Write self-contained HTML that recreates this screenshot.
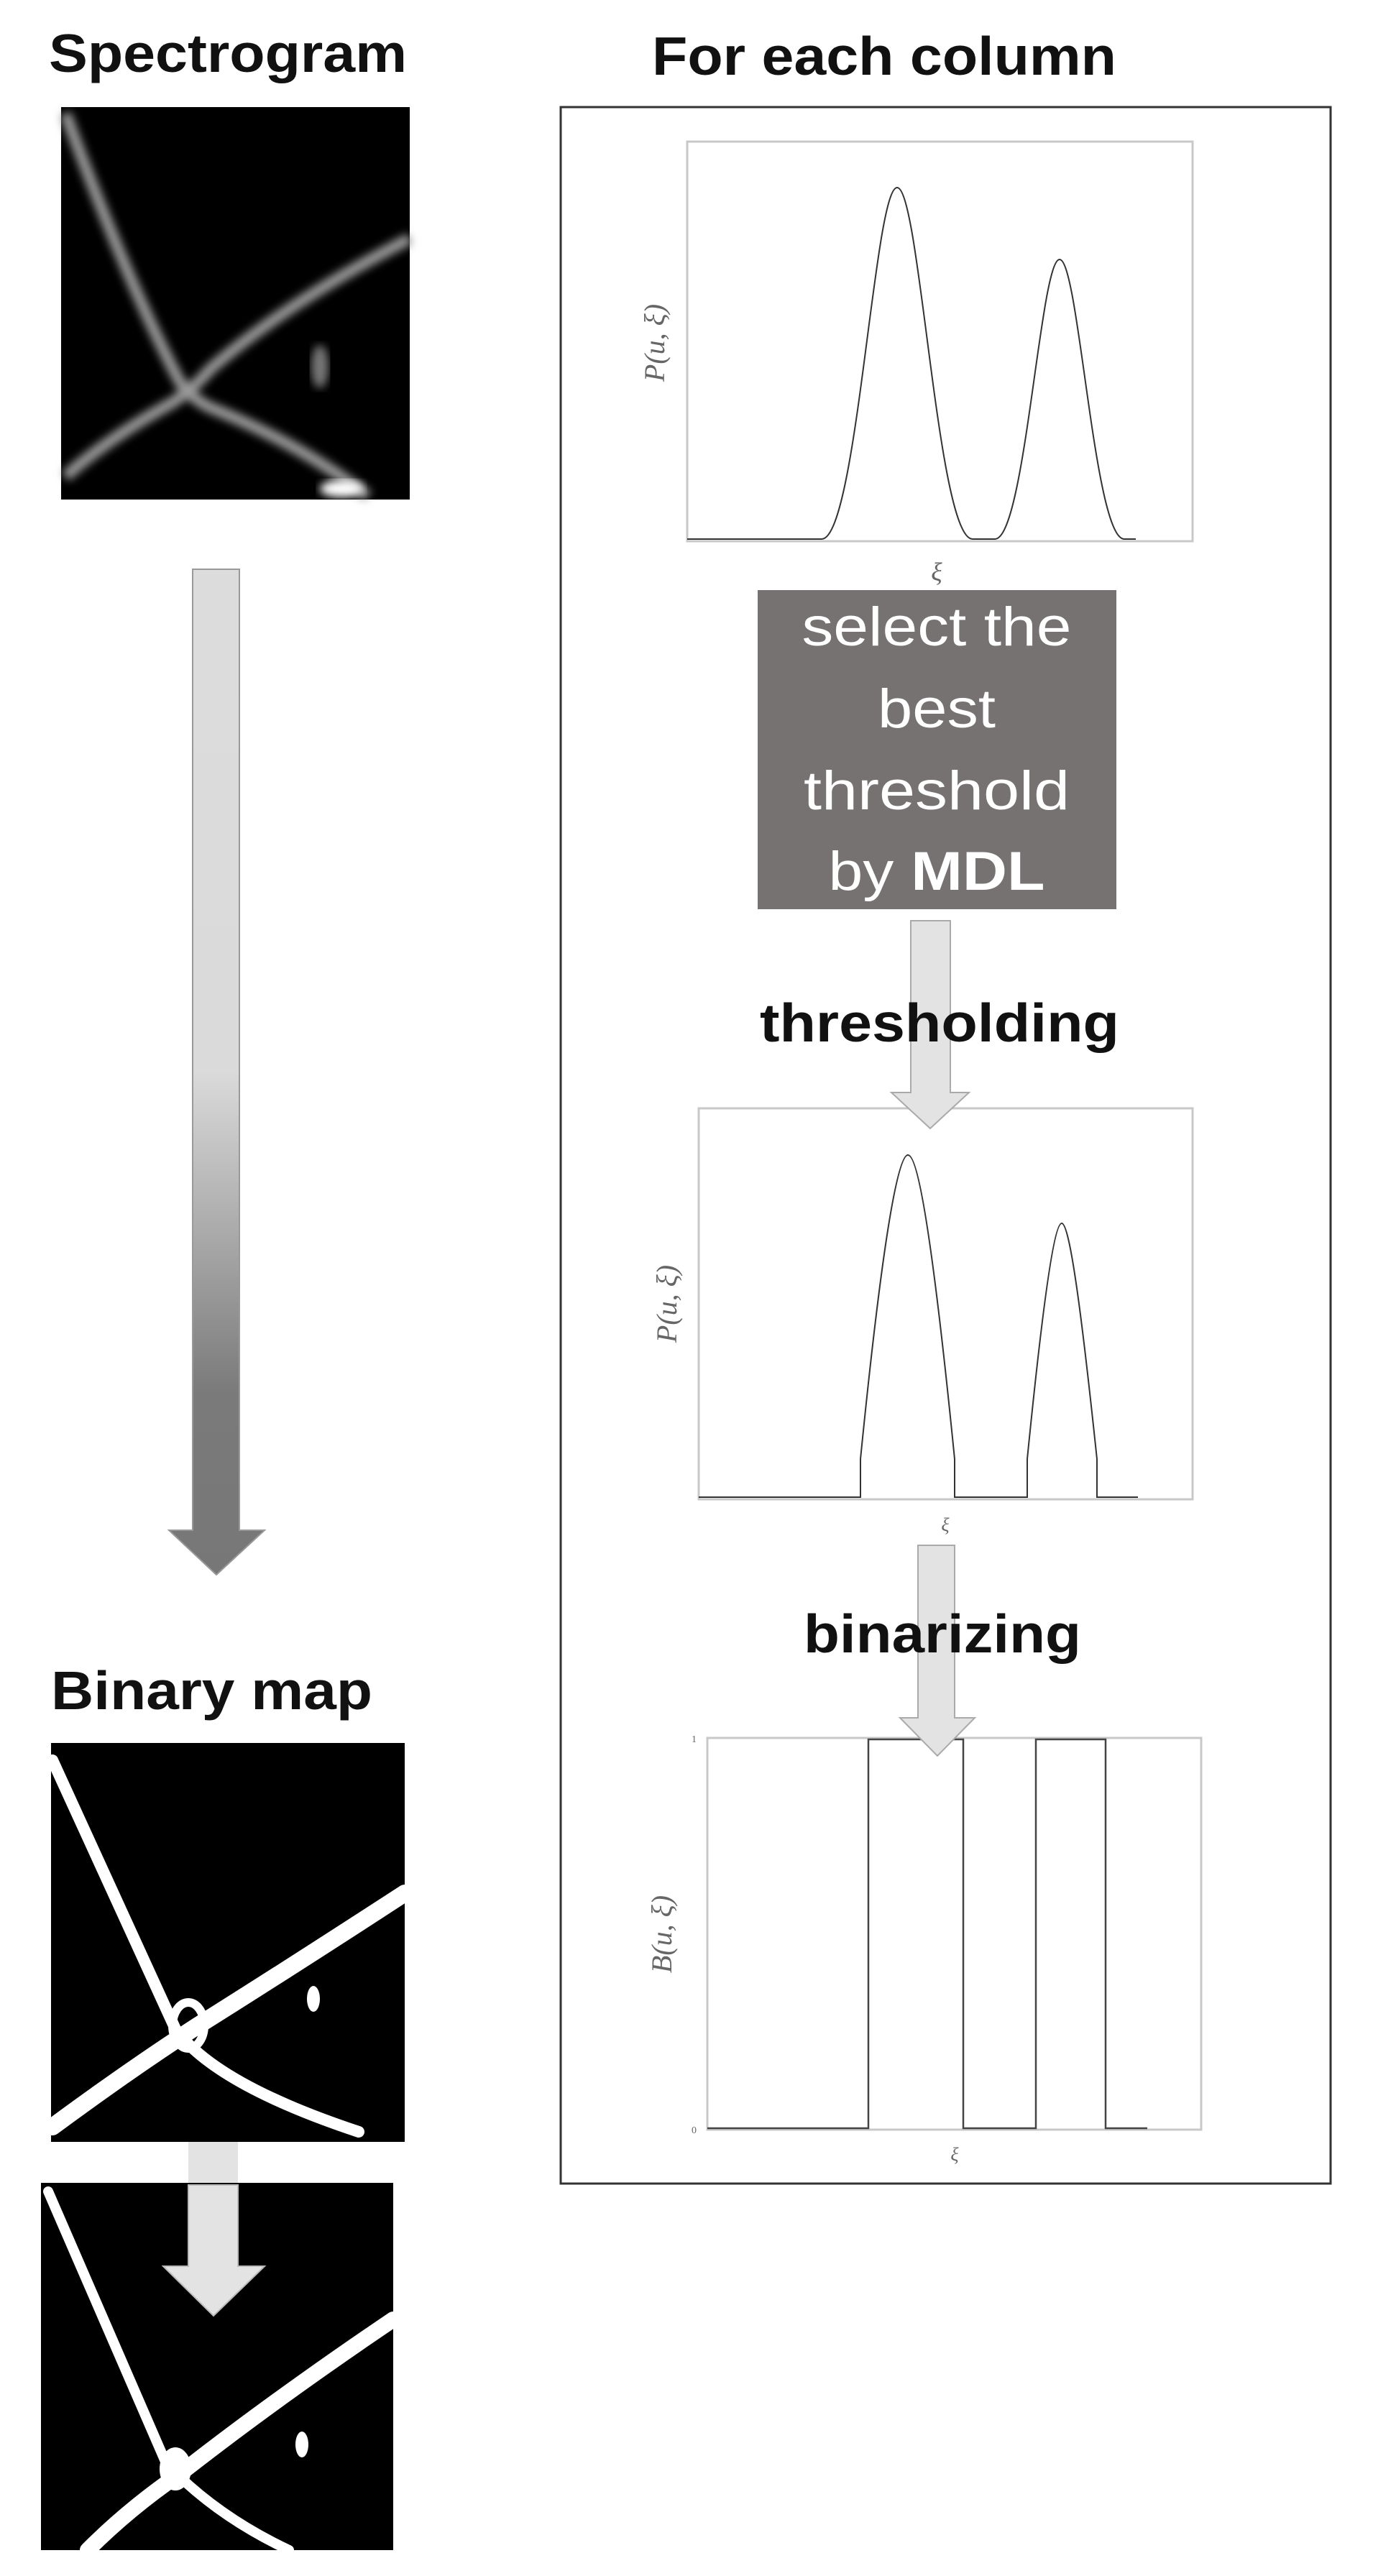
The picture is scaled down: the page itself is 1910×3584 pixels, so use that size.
<!DOCTYPE html>
<html><head><meta charset="utf-8"><style>html,body{margin:0;padding:0;background:#fff}svg{display:block}</style></head>
<body>
<svg width="1910" height="3584" viewBox="0 0 1910 3584" xmlns="http://www.w3.org/2000/svg">
<defs>
<linearGradient id="g1" x1="0" y1="0" x2="0" y2="1">
<stop offset="0" stop-color="#dcdcdc"/><stop offset="0.5" stop-color="#dadada"/><stop offset="0.82" stop-color="#7a7a7a"/><stop offset="1" stop-color="#777"/>
</linearGradient>
<filter id="bl"><feGaussianBlur stdDeviation="6"/></filter>
</defs>
<g font-family="Liberation Sans, sans-serif" font-weight="bold" fill="#111">
<text x="68" y="100" font-size="75" textLength="498" lengthAdjust="spacingAndGlyphs">Spectrogram</text>
<text x="907" y="104" font-size="75" textLength="646" lengthAdjust="spacingAndGlyphs">For each column</text>
<text x="71" y="2378" font-size="75" textLength="447" lengthAdjust="spacingAndGlyphs">Binary map</text>
</g>
<!-- spectrogram -->
<rect x="85" y="149" width="485" height="546" fill="#000"/>
<g stroke="#9a9a9a" fill="none" stroke-width="16" filter="url(#bl)">
<path d="M91,158 Q180,400 250,531 Q270,560 305,572 Q420,620 512,690"/>
<path d="M570,332 Q400,420 292,514 Q270,540 240,560 Q150,610 91,663"/>
</g>
<ellipse cx="445" cy="510" rx="12" ry="30" fill="#777" filter="url(#bl)"/>
<ellipse cx="475" cy="680" rx="30" ry="12" fill="#fff" filter="url(#bl)"/>
<!-- left big arrow -->
<path d="M268,792 H333 V2129 H368 L301,2191 L235,2129 H268 Z" fill="url(#g1)" stroke="#999" stroke-width="2"/>
<!-- binary map 1 -->
<rect x="71" y="2425" width="492" height="555" fill="#000"/>
<g stroke="#fff" fill="none" stroke-linecap="round">
<path d="M73,2449 L244,2823 Q300,2900 499,2966" stroke-width="16"/>
<path d="M563,2634 Q400,2740 274,2819 Q180,2880 73,2959" stroke-width="24"/>
</g>
<ellipse cx="262" cy="2818" rx="22" ry="32" fill="none" stroke="#fff" stroke-width="12"/>
<ellipse cx="436" cy="2781" rx="9" ry="18" fill="#fff"/>
<rect x="262" y="2980" width="69" height="60" fill="#e3e3e3"/>
<!-- binary map 2 -->
<rect x="57" y="3037" width="490" height="511" fill="#000"/>
<g stroke="#fff" fill="none" stroke-linecap="round">
<path d="M67,3049 L231,3427 Q300,3500 402,3548" stroke-width="14"/>
<path d="M547,3227 Q380,3340 250,3442 Q180,3490 122,3548" stroke-width="22"/>
</g>
<ellipse cx="244" cy="3435" rx="22" ry="30" fill="#fff"/>
<ellipse cx="420" cy="3401" rx="9" ry="18" fill="#fff"/>
<path d="M262,3040 H331 V3153 H368 L297,3222 L227,3153 H262 Z" fill="#e3e3e3" stroke="#bbb" stroke-width="2"/>
<!-- right box -->
<rect x="780" y="149" width="1071" height="2889" fill="none" stroke="#333" stroke-width="3"/>
<rect x="956" y="197" width="703" height="556" fill="none" stroke="#c8c8c8" stroke-width="3"/>
<path d="M956,750 L1143,750 C1192,750 1216,261 1248,261 C1280,261 1304,750 1353,750 L1384,750 C1426,750 1447,361 1474,361 C1501,361 1522,750 1564,750 L1580,750" fill="none" stroke="#333" stroke-width="2"/>
<g font-family="Liberation Serif, serif" font-style="italic" fill="#666">
<text x="0" y="0" font-size="40" text-anchor="middle" transform="translate(924,477) rotate(-90)">P(u, ξ)</text>
<text x="1303" y="808" font-size="36" text-anchor="middle">ξ</text>
<text x="0" y="0" font-size="40" text-anchor="middle" transform="translate(941,1814) rotate(-90)">P(u, ξ)</text>
<text x="1315" y="2130" font-size="26" text-anchor="middle">ξ</text>
<text x="0" y="0" font-size="40" text-anchor="middle" transform="translate(934,2691) rotate(-90)">B(u, ξ)</text>
<text x="1328" y="3006" font-size="26" text-anchor="middle">ξ</text>
<text x="962" y="2424" font-size="14" font-style="normal">1</text>
<text x="962" y="2968" font-size="14" font-style="normal">0</text>
</g>
<!-- gray box -->
<rect x="1054" y="821" width="499" height="444" fill="#767272"/>
<g font-family="Liberation Sans, sans-serif" fill="#fff" font-size="76" text-anchor="middle">
<text x="1303" y="898" textLength="375" lengthAdjust="spacingAndGlyphs">select the</text>
<text x="1303" y="1012" textLength="164" lengthAdjust="spacingAndGlyphs">best</text>
<text x="1303" y="1126" textLength="370" lengthAdjust="spacingAndGlyphs">threshold</text>
<text x="1303" y="1238" textLength="301" lengthAdjust="spacingAndGlyphs">by <tspan font-weight="bold">MDL</tspan></text>
</g>
<!-- plot 2 -->
<rect x="972" y="1542" width="687" height="544" fill="none" stroke="#c8c8c8" stroke-width="3"/>
<path d="M972,2083 L1197,2083 L1197,2030 C1220,1800 1245,1607 1263,1607 C1281,1607 1305,1800 1328,2030 L1328,2083 L1429,2083 L1429,2030 C1447,1850 1465,1702 1477,1702 C1489,1702 1507,1850 1526,2030 L1526,2083 L1583,2083" fill="none" stroke="#333" stroke-width="2"/>
<!-- plot 3 -->
<rect x="984" y="2418" width="687" height="545" fill="none" stroke="#c8c8c8" stroke-width="3"/>
<path d="M984,2961 L1208,2961 L1208,2420 L1340,2420 L1340,2961 L1441,2961 L1441,2420 L1538,2420 L1538,2961 L1596,2961" fill="none" stroke="#444" stroke-width="2.5"/>
<!-- right arrows -->
<path d="M1267,1281 H1322 V1520 H1348 L1294,1570 L1240,1520 H1267 Z" fill="#e3e3e3" stroke="#aaa" stroke-width="2"/>
<path d="M1277,2150 H1328 V2390 H1356 L1304,2443 L1252,2390 H1277 Z" fill="#e3e3e3" stroke="#aaa" stroke-width="2"/>
<g font-family="Liberation Sans, sans-serif" font-weight="bold" fill="#111">
<text x="1057" y="1449" font-size="75" textLength="500" lengthAdjust="spacingAndGlyphs">thresholding</text>
<text x="1118" y="2299" font-size="75" textLength="386" lengthAdjust="spacingAndGlyphs">binarizing</text>
</g>
</svg>
</body></html>
